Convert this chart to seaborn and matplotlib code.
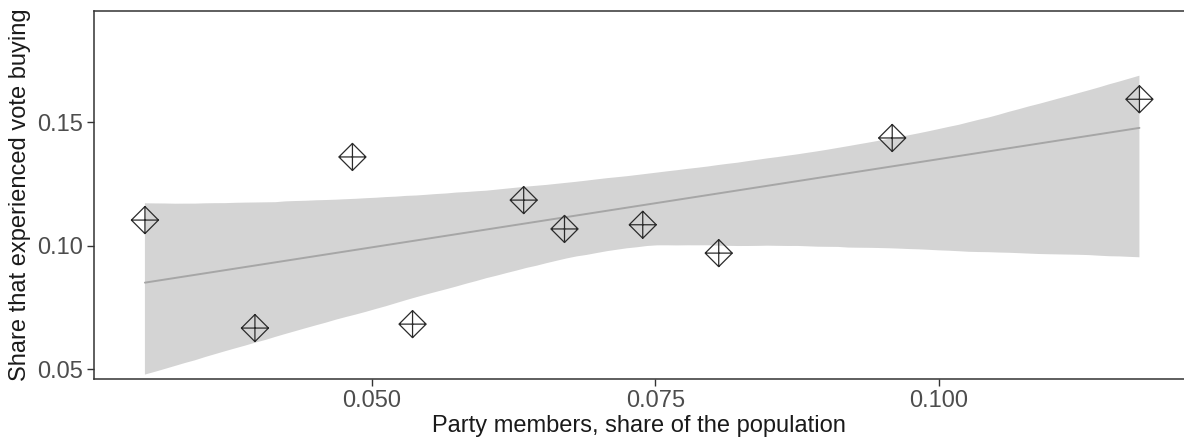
import numpy as np
import pandas as pd
import matplotlib
matplotlib.use("Agg")
import matplotlib.pyplot as plt
import seaborn as sns
from matplotlib.path import Path

# data
party_share = [0.0300, 0.0397, 0.0483, 0.0536, 0.0634, 0.0670, 0.0739, 0.0806, 0.0959, 0.1177]
vote_buying = [0.1104, 0.0666, 0.1360, 0.0682, 0.1185, 0.1068, 0.1085, 0.0970, 0.1437, 0.1594]
x_ticks = [0.050, 0.075, 0.100]
x_tick_labels = ["0.050", "0.075", "0.100"]
y_ticks = [0.05, 0.10, 0.15]
y_tick_labels = ["0.05", "0.10", "0.15"]

df = pd.DataFrame({"party": party_share, "vote": vote_buying})

sns.set_style("white")
plt.rcParams["font.family"] = ["Liberation Sans", "DejaVu Sans"]

# diamond with a plus inside (like R pch 9)
verts = [(0, 1), (1, 0), (0, -1), (-1, 0), (0, 1),
         (-1, 0), (1, 0), (0, -1), (0, 1)]
codes = [Path.MOVETO, Path.LINETO, Path.LINETO, Path.LINETO, Path.CLOSEPOLY,
         Path.MOVETO, Path.LINETO, Path.MOVETO, Path.LINETO]
diamond_plus = Path(verts, codes)

fig, ax = plt.subplots(figsize=(11.84, 4.43), dpi=100)
fig.subplots_adjust(left=0.0794, right=1.0, bottom=0.1445, top=0.9752)

sns.regplot(data=df, x="party", y="vote", scatter=False, ax=ax, ci=96,
            n_boot=10000, seed=7, color="#a6a6a6", line_kws={"lw": 1.4, "zorder": 3})
for coll in ax.collections:
    coll.set_facecolor("#d4d4d4")
    coll.set_alpha(1)
    coll.set_edgecolor("none")
    coll.set_zorder(2)

sns.scatterplot(data=df, x="party", y="vote", ax=ax, marker=diamond_plus, s=380,
                facecolor="none", edgecolor="#2b2b2b", linewidth=0.9, zorder=4)
pts = ax.collections[-1]
pts.set_facecolor("none")
pts.set_edgecolor("#2b2b2b")
pts.set_linewidth(0.9)

ax.set_xlim(0.02551, 0.12163)
ax.set_ylim(0.04595, 0.1952)
ax.set_xticks(x_ticks)
ax.set_xticklabels(x_tick_labels)
ax.set_yticks(y_ticks)
ax.set_yticklabels(y_tick_labels)

ax.set_xlabel("Party members, share of the population", fontsize=17, color="#1a1a1a", labelpad=2)
ax.set_ylabel("Share that experienced vote buying", fontsize=17, color="#1a1a1a", labelpad=4)
ax.tick_params(axis="both", labelsize=17, colors="#333333", labelcolor="#4d4d4d",
               length=5, width=1, direction="out", bottom=True, left=True, pad=3)

for side in ["top", "left", "bottom"]:
    ax.spines[side].set_visible(True)
    ax.spines[side].set_color("#333333")
    ax.spines[side].set_linewidth(1.1)
ax.spines["right"].set_visible(False)

fig.savefig("out.png", dpi=100)
